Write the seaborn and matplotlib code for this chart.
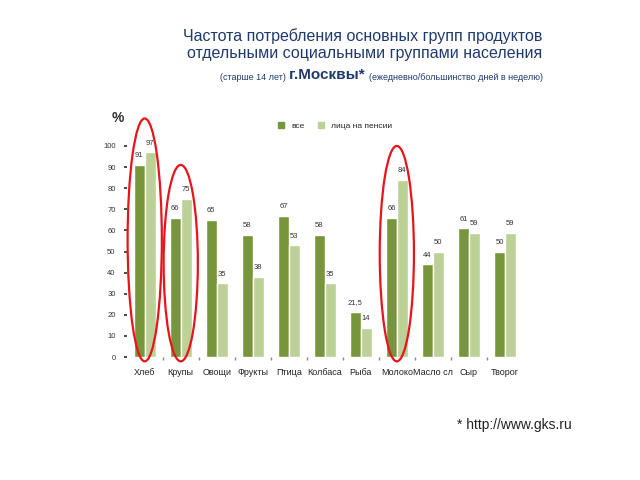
import matplotlib
matplotlib.use('Agg')
import matplotlib.pyplot as plt
from matplotlib.patches import Ellipse
from matplotlib.lines import Line2D
import pandas as pd
import seaborn as sns

categories = ['Хлеб', 'Крупы', 'Овощи', 'Фрукты', 'Птица', 'Колбаса', 'Рыба',
              'Молоко', 'Масло сл', 'Сыр', 'Творог']
all_people = [91, 66, 65, 58, 67, 58, 21.5, 66, 44, 61, 50]
pensioners = [97, 75, 35, 38, 53, 35, 14, 84, 50, 59, 59]
series_names = ['все', 'лица на пенсии']
highlighted = ['Хлеб', 'Крупы', 'Молоко']

df = pd.DataFrame({
    'Продукт': categories * 2,
    'Группа': [series_names[0]] * len(categories) + [series_names[1]] * len(categories),
    'Доля': all_people + pensioners,
})

sns.set_theme(style='white')
plt.rcParams['font.family'] = ['Liberation Sans', 'DejaVu Sans']

colors = ['#77963b', '#bcd195']
title_color = '#1f3a6e'

fig = plt.figure(figsize=(6.4, 4.8), dpi=100)
ax = fig.add_axes([0.198, 0.256, 0.619, 0.44])

sns.barplot(data=df, x='Продукт', y='Доля', hue='Группа', palette=colors,
            width=0.6, saturation=1, ax=ax, legend=False)

for cont in ax.containers:
    labels = [('%g' % b.get_height()).replace('.', ',') for b in cont]
    ax.bar_label(cont, labels=labels, padding=4, fontsize=5.5, color='#333333')

ax.set_ylim(0, 100)
ax.set_xlim(-0.5, len(categories) - 0.5)
ax.set_yticks(range(0, 101, 10))
ax.tick_params(axis='y', labelsize=5.5, length=2, left=True, colors='#333333', pad=6)
ax.tick_params(axis='x', labelsize=6.5, length=0, pad=8, colors='#222222')
ax.set_xticks(range(len(categories)))
ax.set_xticks([i + 0.5 for i in range(len(categories) - 1)], minor=True)
ax.tick_params(axis='x', which='minor', bottom=True, length=2, color='#888888')
ax.set_xlabel('')
ax.set_ylabel('')
for s in ax.spines.values():
    s.set_visible(False)

# red ellipses around highlighted groups
for name in highlighted:
    i = categories.index(name)
    top = max(all_people[i], pensioners[i]) + 16
    bottom = -2
    e = Ellipse((i, (top + bottom) / 2), 0.95, top - bottom, fill=False,
                edgecolor='#e8141b', linewidth=1.6, clip_on=False)
    ax.add_patch(e)

ax.text(-0.75, 110, '%', fontsize=10, fontweight='bold', color='#333333',
        ha='center', va='bottom')

handles = [Line2D([0], [0], marker='s', linestyle='', markersize=5,
                  markerfacecolor=c, markeredgecolor=c) for c in colors]
ax.legend(handles, series_names, loc='lower left', bbox_to_anchor=(0.36, 1.06),
          ncol=2, frameon=False, fontsize=6, handletextpad=0.2, columnspacing=1.0,
          borderaxespad=0)

fig.text(0.848, 0.925, 'Частота потребления основных групп продуктов',
         fontsize=11.5, color=title_color, ha='right', va='center')
fig.text(0.848, 0.888, 'отдельными социальными группами населения',
         fontsize=11.5, color=title_color, ha='right', va='center')
t1 = fig.text(0.848, 0.83, '(ежедневно/большинство дней в неделю)',
              fontsize=6.5, color=title_color, ha='right', va='bottom')
t2 = ax.annotate('г.Москвы* ', xy=(0, 0), xycoords=t1, ha='right', va='bottom',
                 fontsize=11, fontweight='bold', color=title_color,
                 annotation_clip=False)
ax.annotate('(старше 14 лет) ', xy=(0, 0), xycoords=t2, ha='right', va='bottom',
            fontsize=6.5, color=title_color, annotation_clip=False)

fig.text(0.894, 0.115, '* http://www.gks.ru', fontsize=10, color='#222222',
         ha='right', va='center')

fig.savefig('out.png', dpi=100)
